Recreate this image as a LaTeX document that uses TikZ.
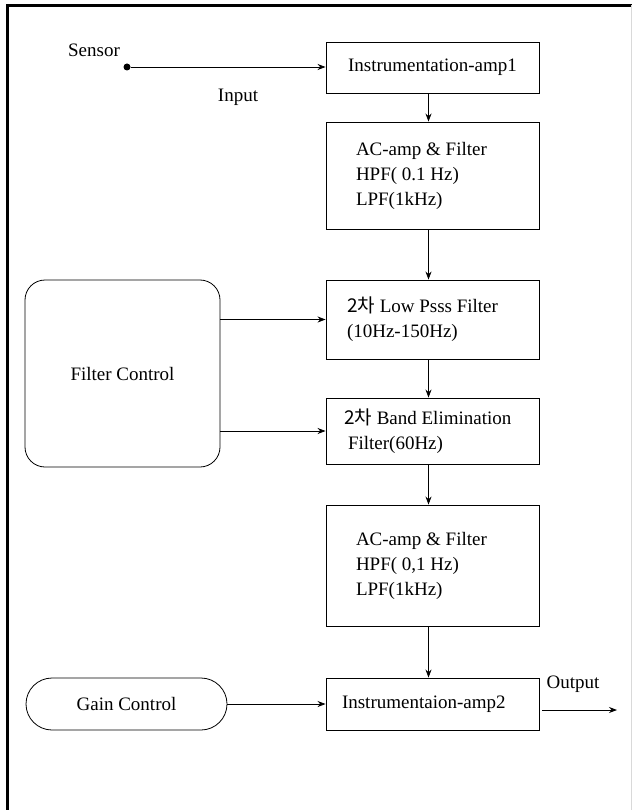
\documentclass[tikz,border=0pt]{standalone}
\usepackage{fontspec}
\setmainfont{Liberation Serif}
\newfontfamily\krfont{Noto Sans CJK KR}
\usetikzlibrary{arrows.meta}
\begin{document}
\begin{tikzpicture}[x=1pt,y=-1pt,
  every node/.style={font=\fontsize{19}{25}\selectfont},
  blk/.style={draw, line width=0.9pt, minimum width=213pt, inner ysep=0pt},
  lefttext/.style={align=left, execute at begin node={\spaceskip=0.25em\relax}},
  ctrl/.style={draw, line width=0.8pt, rounded corners=20pt, inner sep=0pt},
  conn/.style={line width=0.8pt, -{Stealth[length=8pt,width=6pt]}},
]
\useasboundingbox (0,0) rectangle (632,810);
\draw[line width=3pt] (7,810) -- (7,5.5) -- (632,5.5);
\draw[black!15, line width=0.8pt] (631,5) -- (631,810);

% labels
\node (sensor) at (94,50) {Sensor};
\node (input) at (238,97) {Input};
\node (output) at (573,684) {Output};
\node[circle, fill, inner sep=0pt, minimum size=7pt] (dot) at (127,67) {};

% main chain
\node[blk, minimum height=51pt, align=center] (b1) at (432.5,67.5) {Instrumentation-amp1};
\node[blk, lefttext, minimum height=107pt, text width=153pt, inner xsep=30pt] (b2) at (432.5,175.5)
  {AC-amp \& Filter\\HPF( 0.1 Hz)\\LPF(1kHz)};
\node[blk, lefttext, minimum height=79pt, text width=171pt, inner xsep=21pt] (b3) at (432.5,319.5)
  {{\krfont 2차} Low Psss Filter\\(10Hz-150Hz)};
\node[blk, lefttext, minimum height=66pt, text width=189pt, inner xsep=12pt] (b4) at (432.5,431)
  {\hspace*{6pt}{\krfont 2차} Band Elimination\\\hspace*{10pt}Filter(60Hz)};
\node[blk, lefttext, minimum height=121pt, text width=153pt, inner xsep=30pt] (b5) at (432.5,565.5)
  {AC-amp \& Filter\\HPF( 0,1 Hz)\\LPF(1kHz)};
\node[blk, lefttext, minimum height=52pt, text width=181pt, inner xsep=16pt] (b6) at (432.5,704)
  {Instrumentaion-amp2};

% controls
\node[ctrl, minimum width=195pt, minimum height=187pt] (fc) at (122.5,373.5) {Filter Control};
\node[ctrl, rounded corners=26pt, minimum width=201pt, minimum height=52pt] (gc) at (126.5,704) {Gain Control};

% connectors
\draw[conn] (dot) -- (b1.west |- dot);
\draw[conn] ([xshift=-4pt]b1.south) -- ([xshift=-4pt]b2.north);
\draw[conn] ([xshift=-4pt]b2.south) -- ([xshift=-4pt]b3.north);
\draw[conn] ([xshift=-4pt]b3.south) -- ([xshift=-4pt]b4.north);
\draw[conn] ([xshift=-4pt]b4.south) -- ([xshift=-4pt]b5.north);
\draw[conn] ([xshift=-4pt]b5.south) -- ([xshift=-4pt]b6.north);
\draw[conn] (fc.east |- b3.west) -- (b3.west);
\draw[conn] (fc.east |- b4.west) -- (b4.west);
\draw[conn] (gc.east) -- (b6.west |- gc.east);
\coordinate (outend) at (617,710);
\draw[conn] ([xshift=3pt]b6.east |- outend) -- (outend);
\end{tikzpicture}
\end{document}
